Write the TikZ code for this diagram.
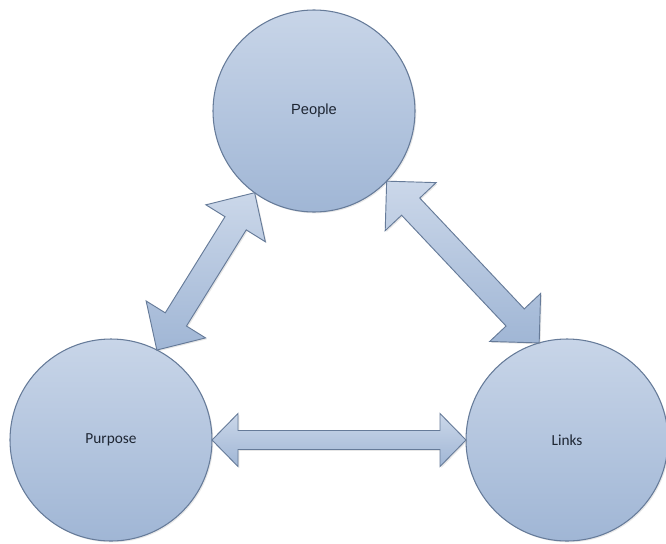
\documentclass[tikz,border=0pt]{standalone}
\usepackage{fontspec}
\newfontfamily\carlito{Carlito}
\newfontfamily\arialf{Liberation Sans}
\usetikzlibrary{calc,shadows}
\definecolor{ctop}{HTML}{C8D5E8}
\definecolor{cbot}{HTML}{A0B6D5}
\definecolor{cline}{HTML}{667B99}
\definecolor{ctext}{HTML}{1E2633}
\tikzset{
  bubble/.style={circle, minimum size=151.5pt, inner sep=0pt, outer sep=0pt,
    top color=ctop, bottom color=cbot, draw=cline, line width=0.8pt,
    drop shadow={opacity=0.18, shadow xshift=1pt, shadow yshift=-1pt},
    text=ctext},
  fatarrow/.style={top color=ctop!95!white, bottom color=cbot, draw=cline, line width=0.7pt,
    line join=miter,
    drop shadow={opacity=0.2, shadow xshift=1pt, shadow yshift=-1pt}}
}
% #1,#2 tip coordinates, #3 shaft half width, #4 head half width, #5 head length (px)
\newcommand{\dblarrow}[5]{%
  \path (#1) coordinate (ta) (#2) coordinate (tb);
  \coordinate (ha) at ($(ta)!#5*0.75pt!(tb)$);
  \coordinate (hb) at ($(tb)!#5*0.75pt!(ta)$);
  \path[fatarrow] (ta)
    -- ($(ha)!#4*0.75pt!90:(tb)$)
    -- ($(ha)!#3*0.75pt!90:(tb)$)
    -- ($(hb)!#3*0.75pt!-90:(ta)$)
    -- ($(hb)!#4*0.75pt!-90:(ta)$)
    -- (tb)
    -- ($(hb)!#4*0.75pt!90:(ta)$)
    -- ($(hb)!#3*0.75pt!90:(ta)$)
    -- ($(ha)!#3*0.75pt!-90:(tb)$)
    -- ($(ha)!#4*0.75pt!-90:(tb)$)
    -- cycle;}
\begin{document}
\begin{tikzpicture}[x=0.75pt,y=-0.75pt]
\useasboundingbox (0,0) rectangle (666,543);
\node[bubble] (people) at (314,111) {\arialf\fontsize{11}{14}\selectfont People};
\node[bubble] (purpose) at (111,440) {\carlito\fontsize{11.5}{14}\selectfont Purpose};
\node[bubble] (links) at (567,440) {\carlito\fontsize{11.5}{14}\selectfont Links};
\dblarrow{people.234.6}{purpose.63.9}{12.5}{35}{36}
\dblarrow{people.316.6}{links.106.6}{12.5}{35}{35}
\dblarrow{purpose.0}{links.180}{9.5}{26.5}{26}
\end{tikzpicture}
\end{document}
